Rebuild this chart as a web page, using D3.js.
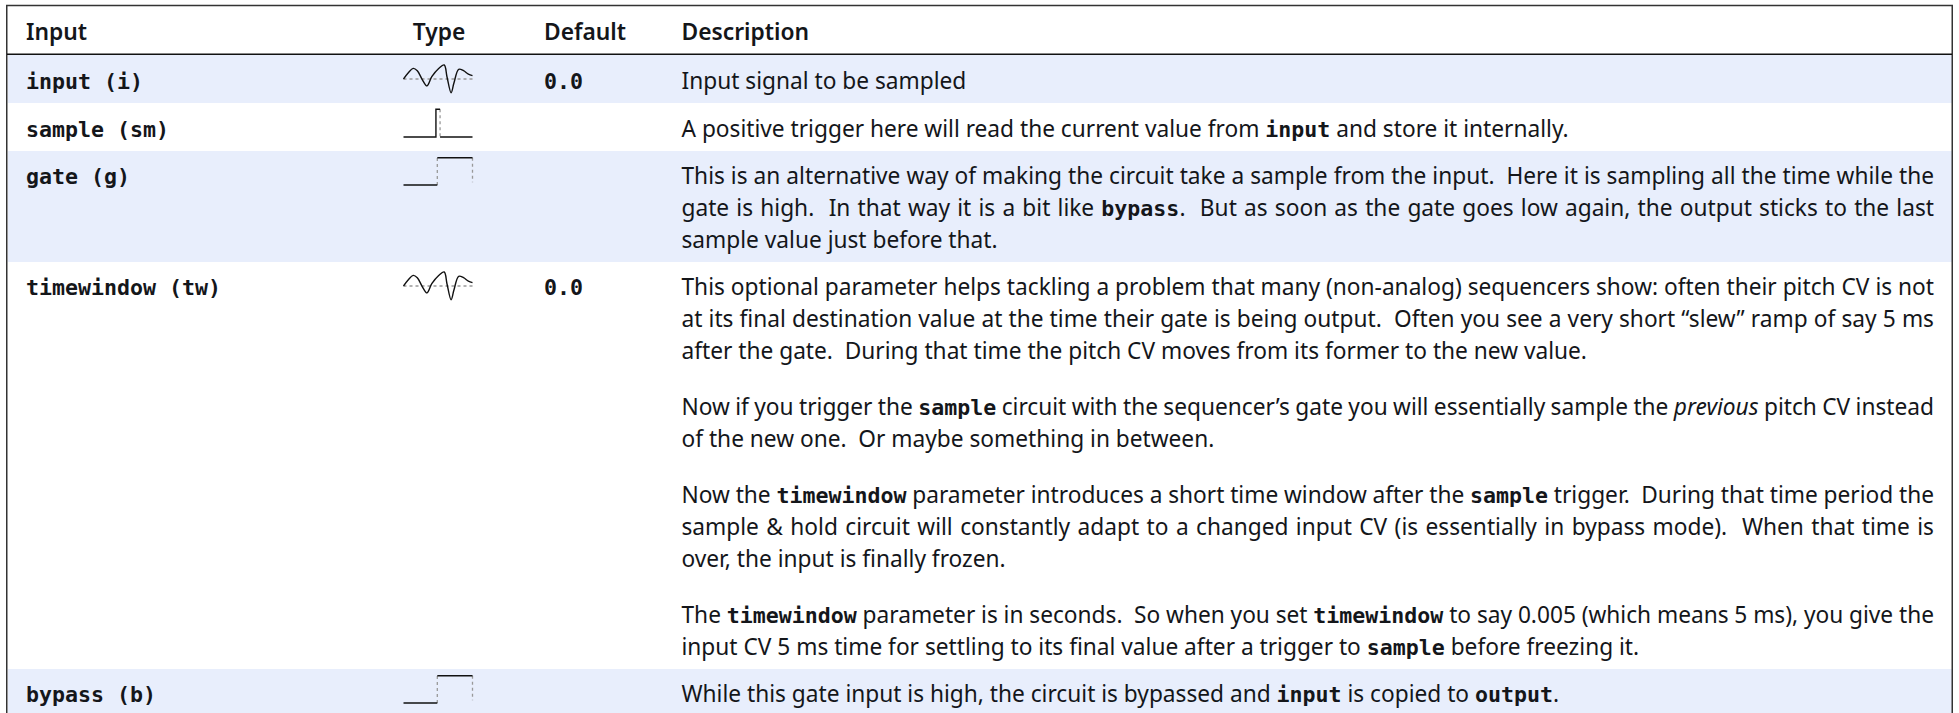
<!DOCTYPE html>
<html>
<head>
<meta charset="utf-8">
<script src="https://cdn.jsdelivr.net/npm/d3@7"></script>
<style>
  html, body { margin: 0; padding: 0; background: #fff; overflow: hidden; }
  text { white-space: pre; fill: #14161a; }
  .sans { font-family: "Noto Sans", sans-serif; font-size: 22.7px; }
  .head { font-family: "Noto Sans", sans-serif; font-size: 22.8px; font-weight: 600; }
  .mono { font-family: "DejaVu Sans Mono", monospace; font-weight: 700; font-size: 21.6px; }
  tspan.code { font-family: "DejaVu Sans Mono", monospace; font-weight: 700; font-size: 21.6px; }
  tspan.em { font-style: italic; }
</style>
</head>
<body>
<script>
var w = 1959;
var h = 713;

// table content
var headers = ["Input", "Type", "Default", "Description"];
var names = ["input (i)", "sample (sm)", "gate (g)", "timewindow (tw)", "bypass (b)"];
var types = ["audio", "trigger", "gate", "audio", "gate"];
var defaults = ["0.0", "", "", "0.0", ""];
// `x` = code, _x_ = italic, a line ending in | is justified to the right edge
var descriptions = [
  ["Input signal to be sampled"],
  ["A positive trigger here will read the current value from `input` and store it internally."],
  ["This is an alternative way of making the circuit take a sample from the input.  Here it is sampling all the time while the|",
   "gate is high.  In that way it is a bit like `bypass`.  But as soon as the gate goes low again, the output sticks to the last|",
   "sample value just before that."],
  ["This optional parameter helps tackling a problem that many (non-analog) sequencers show: often their pitch CV is not|",
   "at its final destination value at the time their gate is being output.  Often you see a very short “slew” ramp of say 5 ms|",
   "after the gate.  During that time the pitch CV moves from its former to the new value.",
   "",
   "Now if you trigger the `sample` circuit with the sequencer’s gate you will essentially sample the _previous_ pitch CV instead|",
   "of the new one.  Or maybe something in between.",
   "",
   "Now the `timewindow` parameter introduces a short time window after the `sample` trigger.  During that time period the|",
   "sample & hold circuit will constantly adapt to a changed input CV (is essentially in bypass mode).  When that time is|",
   "over, the input is finally frozen.",
   "",
   "The `timewindow` parameter is in seconds.  So when you set `timewindow` to say 0.005 (which means 5 ms), you give the|",
   "input CV 5 ms time for settling to its final value after a trigger to `sample` before freezing it."],
  ["While this gate input is high, the circuit is bypassed and `input` is copied to `output`."]
];

// little signal icons, x in 0..100, y in 0..1 (1 = top)
var audioX = [0, 7, 14, 20, 27, 34, 41, 51, 59, 63, 69, 73, 80, 87, 94, 100];
var audioY = [0.5, 0.72, 0.87, 0.79, 0.49, 0.26, 0.58, 0.87, 0.99, 0.58, 0.02, 0.35, 0.84, 0.79, 0.67, 0.62];
var triggerX = [0, 47, 47, 53];
var triggerY = [0, 0, 1, 1];
var triggerRestX = [53, 100];
var triggerRestY = [0, 0];
var gateLowX = [0, 49];
var gateLowY = [0, 0];
var gateHighX = [49, 100];
var gateHighY = [1, 1];

// layout
var rowTops = [55, 103, 151, 262, 669];
var rowBottoms = [103, 151, 262, 669, 720];
var firstBase = [88.5, 136.5, 184, 295, 702];
var colX = { name: 26, type: 439, def: 544, desc: 681.5 };
var rightEdge = 1934;
var lineH = 32;
var paraGap = 24;

var svg = d3.select("body").append("svg")
  .attr("width", w)
  .attr("height", h)
  .style("display", "block");

// row backgrounds
svg.selectAll("rect.row")
  .data(names)
  .enter()
  .append("rect")
  .attr("class", "row")
  .attr("x", 8)
  .attr("y", function (d, i) { return rowTops[i]; })
  .attr("width", 1944)
  .attr("height", function (d, i) { return rowBottoms[i] - rowTops[i]; })
  .attr("fill", function (d, i) { return i % 2 == 0 ? "#e8eefc" : "#fff"; });

// frame
var frame = svg.append("g").attr("fill", "none");
frame.append("path").attr("d", "M6.75,713V5.5H1952.25V713").attr("stroke", "#333").attr("stroke-width", 1.5);
frame.append("path").attr("d", "M7,54.25H1952").attr("stroke", "#111").attr("stroke-width", 1.5);

// header
svg.selectAll("text.head")
  .data(headers)
  .enter()
  .append("text")
  .attr("class", "head")
  .attr("x", function (d, i) { return [colX.name, colX.type, colX.def, colX.desc][i]; })
  .attr("y", 40)
  .attr("text-anchor", function (d, i) { return i == 1 ? "middle" : "start"; })
  .text(function (d) { return d; });

// name and default columns
svg.selectAll("text.name")
  .data(names)
  .enter()
  .append("text")
  .attr("class", "mono")
  .attr("x", colX.name)
  .attr("y", function (d, i) { return firstBase[i]; })
  .text(function (d) { return d; });

svg.selectAll("text.def")
  .data(defaults)
  .enter()
  .append("text")
  .attr("class", "mono")
  .attr("x", colX.def)
  .attr("y", function (d, i) { return firstBase[i]; })
  .text(function (d) { return d; });

// description lines
function addLine(str, x, y) {
  var justify = str.charAt(str.length - 1) == "|";
  if (justify) str = str.slice(0, -1);
  var t = svg.append("text").attr("class", "sans").attr("x", x).attr("y", y);
  str.split(/(`[^`]*`|_[^_]*_)/).forEach(function (part) {
    if (!part) return;
    var c = part.charAt(0);
    if (c == "`") t.append("tspan").attr("class", "code").text(part.slice(1, -1));
    else if (c == "_") t.append("tspan").attr("class", "em").text(part.slice(1, -1));
    else t.append("tspan").text(part);
  });
  if (justify) {
    var extra = rightEdge - x - t.node().getComputedTextLength();
    var spaces = str.split(" ").length - 1;
    t.attr("word-spacing", extra / spaces);
  }
}

descriptions.forEach(function (lines, r) {
  var y = firstBase[r];
  lines.forEach(function (line) {
    if (line) {
      addLine(line, colX.desc, y);
      y += lineH;
    } else {
      y += paraGap;
    }
  });
});

// signal icons
var iconX = d3.scaleLinear().domain([0, 100]).range([403.5, 472.5]);

function lineFor(yScale, curve) {
  return d3.line()
    .x(function (d) { return iconX(d[0]); })
    .y(function (d) { return yScale(d[1]); })
    .curve(curve || d3.curveLinear);
}

function solid(g, xs, ys, yScale, curve) {
  g.append("path")
    .attr("d", lineFor(yScale, curve)(d3.zip(xs, ys)))
    .attr("fill", "none")
    .attr("stroke", "#111")
    .attr("stroke-width", 1.4);
}

function dotted(g, pts, yScale) {
  g.append("path")
    .attr("d", lineFor(yScale)(pts))
    .attr("fill", "none")
    .attr("stroke", "#999")
    .attr("stroke-width", 1.3)
    .attr("stroke-dasharray", "3,3");
}

types.forEach(function (type, r) {
  var top = rowTops[r];
  var g = svg.append("g");
  if (type == "audio") {
    var yA = d3.scaleLinear().domain([0, 1]).range([top + 38.3, top + 9.7]);
    dotted(g, [[0, 0.5], [100, 0.5]], yA);
    solid(g, audioX, audioY, yA, d3.curveCatmullRom);
  } else if (type == "trigger") {
    var yT = d3.scaleLinear().domain([0, 1]).range([top + 34, top + 6.3]);
    dotted(g, [[53, 1], [53, 0]], yT);
    solid(g, triggerX, triggerY, yT);
    solid(g, triggerRestX, triggerRestY, yT);
  } else {
    var yG = d3.scaleLinear().domain([0, 1]).range([top + 34, top + 6.7]);
    dotted(g, [[49, 0], [49, 1]], yG);
    dotted(g, [[100, 1], [100, 0.1]], yG);
    solid(g, gateLowX, gateLowY, yG);
    solid(g, gateHighX, gateHighY, yG);
  }
});
</script>
</body>
</html>
